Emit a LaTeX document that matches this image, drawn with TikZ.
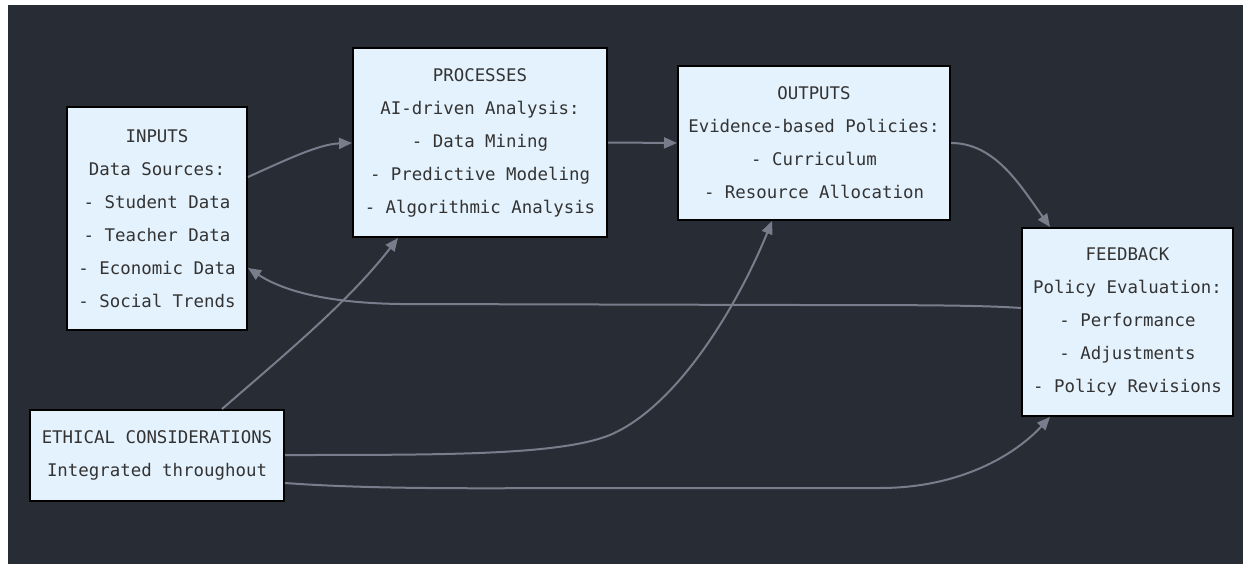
\documentclass[tikz,border=0pt]{standalone}
\usepackage{fontspec}
\setmonofont{DejaVu Sans Mono}
\usetikzlibrary{arrows.meta}
\definecolor{bgdark}{RGB}{40,44,53}
\definecolor{boxfill}{RGB}{228,242,253}
\definecolor{txt}{RGB}{51,51,51}
\definecolor{edgecol}{RGB}{122,124,140}
\tikzset{
  box/.style={draw=black, line width=2pt, fill=boxfill, text=txt, align=center,
    inner sep=0pt, font=\ttfamily\fontsize{17.4}{33}\selectfont},
  conn/.style={draw=edgecol, line width=2pt, -{Triangle[length=13pt,width=11pt]}},
}
\begin{document}
\begin{tikzpicture}[x=1pt,y=-1pt]
\useasboundingbox (0,0) rectangle (1246,564);
\fill[white] (0,0) rectangle (1246,564);
\fill[bgdark] (8,5) rectangle (1243,564);

\node[box, minimum width=180pt, minimum height=223pt] (inp) at (157,218.5)
  {INPUTS\\Data Sources:\\- Student Data\\- Teacher Data\\- Economic Data\\- Social Trends};
\node[box, minimum width=254pt, minimum height=189pt] (proc) at (480,142.5)
  {PROCESSES\\AI-driven Analysis:\\- Data Mining\\- Predictive Modeling\\- Algorithmic Analysis};
\node[box, minimum width=272pt, minimum height=154pt] (out) at (814,143)
  {OUTPUTS\\Evidence-based Policies:\\- Curriculum\\- Resource Allocation};
\node[box, minimum width=211pt, minimum height=188pt] (fb) at (1127.5,322)
  {FEEDBACK\\Policy Evaluation:\\- Performance\\- Adjustments\\- Policy Revisions};
\node[box, minimum width=254pt, minimum height=91pt] (eth) at (157,455.5)
  {ETHICAL CONSIDERATIONS\\Integrated throughout};

\draw[conn] ([yshift=41.5pt]inp.east) .. controls (290,158) and (320,144) .. ([yshift=-0.5pt]proc.west);
\draw[conn] (proc.east) -- (out.west);
\draw[conn] (out.east) .. controls (995,143) and (1020,185) .. ([xshift=-77.5pt]fb.north);
\draw[conn] ([yshift=14pt]fb.west) .. controls (980,305) and (900,305) .. (800,305)
  -- (400,304) .. controls (330,303) and (285,292) .. ([yshift=-49.5pt]inp.east);
\draw[conn] ([xshift=65pt]eth.north) .. controls (290,350) and (350,300) .. ([xshift=-82pt]proc.south);
\draw[conn] ([yshift=0.5pt]eth.east) .. controls (450,455) and (560,455) .. (610,435)
  .. controls (680,405) and (740,300) .. ([xshift=-42pt]out.south);
\draw[conn] ([yshift=-27.5pt]eth.east) .. controls (380,490) and (500,488) .. (600,488)
  -- (880,488) .. controls (960,488) and (1015,455) .. ([xshift=-77.5pt]fb.south);
\end{tikzpicture}
\end{document}
